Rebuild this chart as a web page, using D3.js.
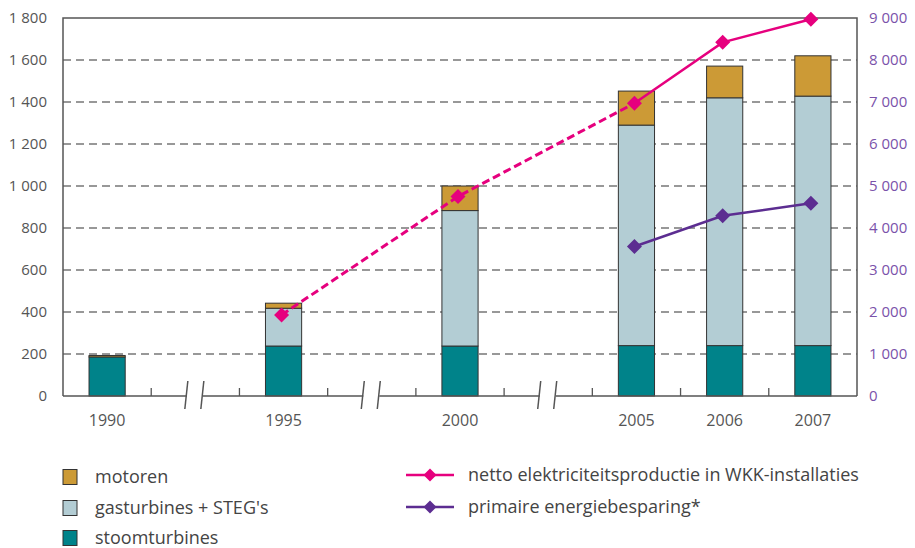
<!DOCTYPE html>
<html>
<head>
<meta charset="utf-8">
<script src="https://cdn.jsdelivr.net/npm/d3@7/dist/d3.min.js"></script>
<style>
  html, body { margin: 0; padding: 0; background: #fff; }
  svg { display: block; }
  text { font-family: "Open Sans", "DejaVu Sans", sans-serif; }
</style>
</head>
<body>
<svg id="chart" width="915" height="548"></svg>
<script>
// ---- data ----
const slots = ["1990", "gap1", "1995", "gap2", "2000", "gap3", "2005", "2006", "2007"];
const years = ["1990", "1995", "2000", "2005", "2006", "2007"];
const stoomturbines = [186, 238, 238, 240, 240, 240];
const gasturbines   = [0, 180, 645, 1050, 1180, 1188];
const motoren       = [7, 24, 117, 162, 151, 192];
const netto         = [null, 1930, 4750, 6970, 8420, 8970];
const primaire      = [null, null, null, 3560, 4290, 4590];
const leftTicks  = [0, 200, 400, 600, 800, 1000, 1200, 1400, 1600, 1800];
const rightTicks = [0, 1000, 2000, 3000, 4000, 5000, 6000, 7000, 8000, 9000];
const seriesNames = ["stoomturbines", "gasturbines + STEG's", "motoren"];
const lineNames = ["netto elektriciteitsproductie in WKK-installaties", "primaire energiebesparing*"];

// ---- styles ----
const colors = { stoom: "#00838a", gas: "#b3cdd4", motoren: "#cc9a36", netto: "#e6007e", primaire: "#5c2d91" };
const m = { left: 63, right: 857, top: 18, bottom: 396 };

const svg = d3.select("#chart");
const fmt = d3.formatLocale({ decimal: ",", thousands: "\u2009", grouping: [3], currency: ["", ""] }).format(",d");
const fmtSp = v => fmt(v).replace("\u2009", " ");

const x = d3.scaleBand().domain(slots).range([m.left, m.right]).padding(0);
const yL = d3.scaleLinear().domain([0, 1800]).range([m.bottom, m.top]);
const yR = d3.scaleLinear().domain([0, 9000]).range([m.bottom, m.top]);
const barW = x.bandwidth() * 0.41;
const cx = yr => x(yr) + x.bandwidth() / 2;

// gridlines
svg.append("g").selectAll("line").data(leftTicks.filter(d => d > 0 && d < 1800)).join("line")
  .attr("x1", m.left).attr("x2", m.right)
  .attr("y1", d => yL(d)).attr("y2", d => yL(d))
  .attr("stroke", "#333").attr("stroke-width", 1.2).attr("stroke-dasharray", "8,5");

// stacked bars
const table = years.map((yr, i) => ({ year: yr, stoom: stoomturbines[i], gas: gasturbines[i], motoren: motoren[i] }));
const stack = d3.stack().keys(["stoom", "gas", "motoren"])(table);
svg.append("g").selectAll("g").data(stack).join("g")
  .attr("fill", d => colors[d.key])
  .selectAll("rect").data(d => d.filter(p => p[1] - p[0] > 0)).join("rect")
  .attr("x", d => cx(d.data.year) - barW / 2)
  .attr("width", barW)
  .attr("y", d => yL(d[1]))
  .attr("height", d => yL(d[0]) - yL(d[1]))
  .attr("stroke", "#333").attr("stroke-width", 1);

// frame: left, top, right
const frame = svg.append("g").attr("stroke", "#555").attr("stroke-width", 1.5).attr("fill", "none");
frame.append("path").attr("d", `M${m.left},${m.bottom}V${m.top}H${m.right}V${m.bottom}`);

// x axis line with breaks
const gaps = ["gap1", "gap2", "gap3"];
let segs = [];
let start = m.left;
gaps.forEach(g => {
  const c = cx(g);
  segs.push([start, c - 8.5]);
  start = c + 7.5;
});
segs.push([start, m.right]);
const ax = svg.append("g").attr("stroke", "#555").attr("stroke-width", 1.5);
segs.forEach(s => ax.append("line").attr("x1", s[0]).attr("x2", s[1]).attr("y1", m.bottom).attr("y2", m.bottom));
gaps.forEach(g => {
  const c = cx(g);
  [-9, 7].forEach(o => ax.append("line")
    .attr("x1", c + o + 1.5).attr("y1", m.bottom - 15)
    .attr("x2", c + o - 1.5).attr("y2", m.bottom + 13));
});
// ticks at slot boundaries
svg.append("g").selectAll("line").data(slots.slice(1)).join("line")
  .attr("x1", d => x(d)).attr("x2", d => x(d))
  .attr("y1", m.bottom).attr("y2", m.bottom - 8)
  .attr("stroke", "#555").attr("stroke-width", 1.3);

// x labels
svg.append("g").selectAll("text").data(years).join("text")
  .attr("x", d => cx(d)).attr("y", 420).attr("dy", "0.35em")
  .attr("text-anchor", "middle").attr("font-size", 16).attr("fill", "#555")
  .text(d => d);

// left labels
svg.append("g").selectAll("text").data(leftTicks).join("text")
  .attr("x", 47).attr("y", d => yL(d)).attr("dy", "0.35em")
  .attr("text-anchor", "end").attr("font-size", 15).attr("fill", "#555")
  .text(d => fmtSp(d));

// right labels
svg.append("g").selectAll("text").data(rightTicks).join("text")
  .attr("x", 869).attr("y", d => yR(d)).attr("dy", "0.35em")
  .attr("text-anchor", "start").attr("font-size", 15).attr("fill", "#7a52aa")
  .text(d => fmtSp(d));

// lines
const diamond = r => `M0,${-r}L${r},0L0,${r}L${-r},0Z`;
const pts = arr => years.map((yr, i) => ({ x: cx(yr) - 2, y: arr[i] })).filter(p => p.y != null);
const line = d3.line().x(d => d.x).y(d => yR(d.y));

const nettoPts = pts(netto);
svg.append("path").attr("d", line(nettoPts.slice(0, 3)))
  .attr("fill", "none").attr("stroke", colors.netto).attr("stroke-width", 3).attr("stroke-dasharray", "8,4");
svg.append("path").attr("d", line(nettoPts.slice(2)))
  .attr("fill", "none").attr("stroke", colors.netto).attr("stroke-width", 2.5);
svg.append("g").selectAll("path").data(nettoPts).join("path")
  .attr("transform", d => `translate(${d.x},${yR(d.y)})`)
  .attr("d", diamond(7.5)).attr("fill", colors.netto);

const primPts = pts(primaire);
svg.append("path").attr("d", line(primPts))
  .attr("fill", "none").attr("stroke", colors.primaire).attr("stroke-width", 2.5);
svg.append("g").selectAll("path").data(primPts).join("path")
  .attr("transform", d => `translate(${d.x},${yR(d.y)})`)
  .attr("d", diamond(7.5)).attr("fill", colors.primaire);

// legend: boxes
const boxLegend = [
  { name: seriesNames[2], c: colors.motoren, y: 477 },
  { name: seriesNames[1], c: colors.gas, y: 508 },
  { name: seriesNames[0], c: colors.stoom, y: 538 }
];
const bl = svg.append("g").selectAll("g").data(boxLegend).join("g");
bl.append("rect").attr("x", 63).attr("y", d => d.y - 7.5).attr("width", 14).attr("height", 15)
  .attr("fill", d => d.c).attr("stroke", "#333").attr("stroke-width", 1);
bl.append("text").attr("x", 95).attr("y", d => d.y + 6)
  .attr("font-size", 18).attr("fill", "#444").text(d => d.name);

// legend: lines
const lineLegend = [
  { name: lineNames[0], c: colors.netto, y: 475 },
  { name: lineNames[1], c: colors.primaire, y: 507 }
];
const ll = svg.append("g").selectAll("g").data(lineLegend).join("g");
ll.append("line").attr("x1", 406).attr("x2", 454).attr("y1", d => d.y).attr("y2", d => d.y)
  .attr("stroke", d => d.c).attr("stroke-width", 2.5);
ll.append("path").attr("transform", d => `translate(430,${d.y})`).attr("d", diamond(6.5)).attr("fill", d => d.c);
ll.append("text").attr("x", 468).attr("y", d => d.y + 6)
  .attr("font-size", 18).attr("fill", "#444").text(d => d.name);
</script>
</body>
</html>
